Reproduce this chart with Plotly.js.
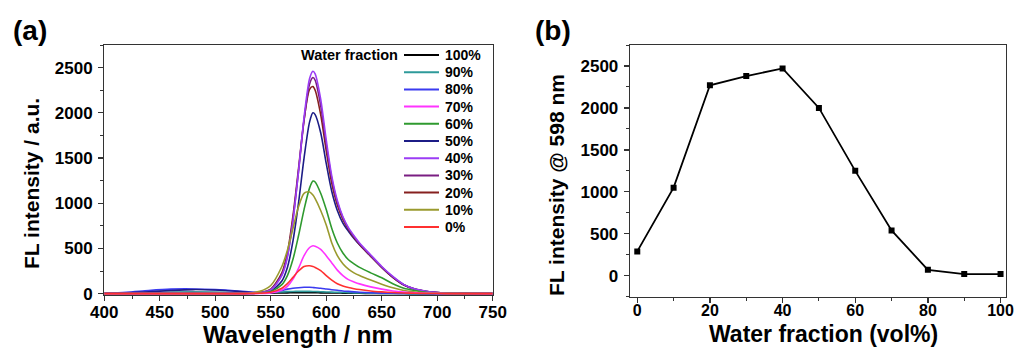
<!DOCTYPE html>
<html>
<head>
<meta charset="utf-8">
<script src="https://cdn.plot.ly/plotly-3.0.1.min.js"></script>
<style>html,body{margin:0;padding:0;background:#fff;}#chart{width:1019px;height:350px;}</style>
</head>
<body>
<div id="chart"></div>
<script>
// ---------- Data (a): FL spectra ----------
const wavelength = [400,420,440,460,480,500,520,530,540,550,560,565,570,575,580,585,588,590,595,600,605,610,615,620,625,630,640,650,660,670,680,690,700,720,750];
const fl100 = [2,4,8,12,14,12,8,6,5,6,8,9,10,10,10,10,10,10,9,9,8,7,6,5,5,4,3,2,1,1,0,0,0,0,0];
const fl90  = [2,5,10,15,18,16,12,10,10,12,18,22,24,25,25,25,24,23,21,19,17,15,13,11,9,8,5,3,2,1,0,0,0,0,0];
const fl80  = [5,15,35,50,52,45,30,20,12,15,35,50,60,66,70,70,68,65,60,52,44,37,30,25,20,16,10,6,4,2,1,0,0,0,0];
const fl70  = [0,0,0,0,0,0,0,0,2,8,40,80,160,280,420,510,530,525,490,420,340,260,200,155,130,108,75,50,30,17,9,5,3,1,0];
const fl60  = [0,0,0,0,0,0,0,2,8,25,100,200,380,640,930,1170,1245,1235,1110,930,720,560,450,375,330,290,230,175,110,60,35,15,8,3,1];
const fl50  = [5,10,20,35,45,40,25,15,12,30,140,290,580,1000,1500,1900,2000,1980,1780,1440,1130,920,780,690,610,540,415,290,180,95,48,24,12,5,2];
const fl40  = [0,0,0,0,0,0,0,2,10,40,200,400,800,1350,1950,2380,2460,2430,2150,1700,1300,1030,850,730,640,560,430,300,190,100,50,25,12,5,2];
const fl30  = [0,0,0,0,0,0,0,2,10,45,210,420,820,1350,1920,2320,2390,2360,2080,1650,1270,1010,840,720,630,550,420,295,185,98,50,25,12,5,2];
const fl20  = [0,0,0,0,0,0,0,3,12,50,230,450,860,1380,1920,2260,2290,2250,1980,1580,1220,980,820,710,620,545,415,290,180,95,48,24,12,5,2];
const fl10  = [0,0,0,0,0,0,0,5,25,90,300,480,720,960,1110,1125,1090,1050,920,760,560,420,330,270,230,200,150,105,65,35,18,10,5,2,1];
const fl0   = [0,0,0,0,0,0,0,1,4,15,60,110,180,250,300,308,300,290,255,200,150,110,85,68,55,45,30,20,12,7,4,2,1,0,0];
const fractionLabels = ['100%','90%','80%','70%','60%','50%','40%','30%','20%','10%','0%'];
const xTicksA = [400,450,500,550,600,650,700,750];
const yTicks = [0,500,1000,1500,2000,2500];

// ---------- Data (b): intensity at 598 nm ----------
const waterFraction = [0,10,20,30,40,50,60,70,80,90,100];
const intensity598 = [290,1050,2270,2380,2470,2000,1250,540,70,20,20];
const xTicksB = [0,20,40,60,80,100];

// ---------- Styles ----------
const seriesY = {'100%':fl100,'90%':fl90,'80%':fl80,'70%':fl70,'60%':fl60,'50%':fl50,'40%':fl40,'30%':fl30,'20%':fl20,'10%':fl10,'0%':fl0};
const colors = {'100%':'#000000','90%':'#2e9a9a','80%':'#3b3bf0','70%':'#ff33ff','60%':'#2f9a2f','50%':'#1c1c86','40%':'#9b3cf5','30%':'#7a1e82','20%':'#86201f','10%':'#9a9a2e','0%':'#ff3030'};
const drawOrder = ['100%','90%','80%','50%','20%','30%','40%','60%','10%','70%','0%'];

const FONT = 'Liberation Sans, Arial, Helvetica, sans-serif';
const W = 1019, H = 350;
const px = x => x / W, py = y => (H - y) / H;
const b = s => '<b>' + s + '</b>';

const traces = drawOrder.map(k => ({
  x: wavelength, y: seriesY[k], type: 'scatter', mode: 'lines', name: k,
  line: {color: colors[k], width: 1.6, shape: 'spline', smoothing: 0.8},
  xaxis: 'x', yaxis: 'y', showlegend: false, hoverinfo: 'skip'
}));
traces.push({
  x: waterFraction, y: intensity598, type: 'scatter', mode: 'lines+markers',
  line: {color: '#000', width: 1.8}, marker: {symbol: 'square', size: 6, color: '#000'},
  xaxis: 'x2', yaxis: 'y2', showlegend: false, hoverinfo: 'skip'
});

const tickFont = {family: FONT, size: 17, color: '#000'};
const axisCommon = {
  showline: true, linecolor: '#333', linewidth: 1.3, mirror: true,
  ticks: 'outside', ticklen: 5, tickwidth: 1.3, tickcolor: '#333',
  showgrid: false, zeroline: false, tickfont: tickFont, tickmode: 'array'
};
const minorTicks = d => ({dtick: d, ticks: 'outside', ticklen: 3, tickwidth: 1, tickcolor: '#333'});

function ann(text, x, y, size, extra) {
  return Object.assign({text: b(text), x: px(x), y: py(y), xref: 'paper', yref: 'paper', xanchor: 'center', yanchor: 'middle',
    showarrow: false, font: {family: FONT, size: size, color: '#000'}}, extra || {});
}

const annotations = [
  ann('(a)', 30, 30, 28),
  ann('(b)', 553, 30, 28),
  ann('Wavelength / nm', 298, 334, 24),
  ann('FL intensity / a.u.', 31, 184, 21, {textangle: -90}),
  ann('Water fraction (vol%)', 823, 334, 23),
  ann('FL intensity @ 598 nm', 556, 185, 21, {textangle: -90}),
  ann('Water fraction', 400, 55, 14.5, {xanchor: 'right'})
];
const shapes = [];
fractionLabels.forEach((k, i) => {
  const yy = 55 + i * 17.2;
  annotations.push(ann(k, 443, yy, 14, {xanchor: 'left'}));
  shapes.push({type: 'line', xref: 'paper', yref: 'paper', x0: px(404), x1: px(439), y0: py(yy), y1: py(yy),
    line: {color: colors[k], width: 2}});
});

const layout = {
  width: W, height: H, margin: {l: 0, r: 0, t: 0, b: 0},
  paper_bgcolor: '#fff', plot_bgcolor: '#fff', showlegend: false,
  xaxis: Object.assign({}, axisCommon, {domain: [px(104.3), px(492.7)], range: [400, 750], ticklabelstandoff: -4,
    tickvals: xTicksA, ticktext: xTicksA.map(v => b(v)), minor: minorTicks(25), anchor: 'y'}),
  yaxis: Object.assign({}, axisCommon, {domain: [py(295), py(45)], range: [-15, 2750], ticklabelstandoff: 2,
    tickvals: yTicks, ticktext: yTicks.map(v => b(v)), minor: minorTicks(250), anchor: 'x'}),
  xaxis2: Object.assign({}, axisCommon, {domain: [px(630), px(1006)], range: [-2, 101.5], ticklabelstandoff: -6,
    tickfont: {family: FONT, size: 16, color: '#000'},
    tickvals: xTicksB, ticktext: xTicksB.map(v => b(v)), minor: minorTicks(10), anchor: 'y2'}),
  yaxis2: Object.assign({}, axisCommon, {domain: [py(296.7), py(45)], range: [-250, 2750], ticklabelstandoff: 2,
    tickvals: yTicks, ticktext: yTicks.map(v => b(v)), minor: minorTicks(250), anchor: 'x2'}),
  annotations: annotations, shapes: shapes
};

Plotly.newPlot('chart', traces, layout, {staticPlot: true, displayModeBar: false});
</script>
</body>
</html>
